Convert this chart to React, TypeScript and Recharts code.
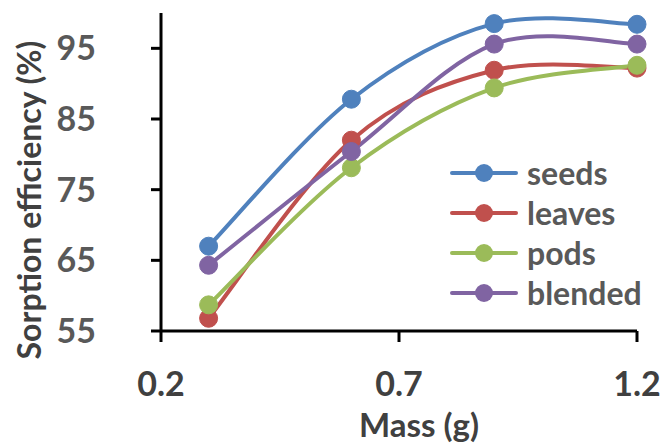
import { Label, Line, LineChart, XAxis, YAxis } from "recharts";

const mass = [0.3, 0.6, 0.9, 1.2];
const seeds = [67.0, 87.8, 98.5, 98.4];
const leaves = [56.8, 82.0, 91.9, 92.2];
const pods = [58.7, 78.1, 89.4, 92.6];
const blended = [64.3, 80.4, 95.6, 95.6];

const xTicks = [0.2, 0.7, 1.2];
const yTicks = [55, 65, 75, 85, 95];

const series = [
  { key: "seeds", color: "#4F81BD" },
  { key: "leaves", color: "#C0504D" },
  { key: "pods", color: "#9BBB59" },
  { key: "blended", color: "#8064A2" },
];

const data = mass.map((m, i) => ({
  mass: m,
  seeds: seeds[i],
  leaves: leaves[i],
  pods: pods[i],
  blended: blended[i],
}));

const FONT = "Lato, 'Noto Sans', sans-serif";

// Excel-like smoothed line (Catmull-Rom through the points)
const excelCurve = (context: any) => {
  let pts: number[][] = [];
  return {
    areaStart() {},
    areaEnd() {},
    lineStart() {
      pts = [];
    },
    point(x: number, y: number) {
      pts.push([+x, +y]);
    },
    lineEnd() {
      if (!pts.length) return;
      context.moveTo(pts[0][0], pts[0][1]);
      for (let i = 0; i < pts.length - 1; i++) {
        const p0 = pts[i - 1] || pts[i];
        const p1 = pts[i];
        const p2 = pts[i + 1];
        const p3 = pts[i + 2] || p2;
        context.bezierCurveTo(
          p1[0] + (p2[0] - p0[0]) / 6,
          p1[1] + (p2[1] - p0[1]) / 6,
          p2[0] - (p3[0] - p1[0]) / 6,
          p2[1] - (p3[1] - p1[1]) / 6,
          p2[0],
          p2[1],
        );
      }
    },
  };
};

const LegendBox = () => (
  <div style={{ position: "absolute", left: 450, top: 153, fontFamily: FONT }}>
    {series.map((s) => (
      <div
        key={s.key}
        style={{ display: "flex", alignItems: "center", height: 40 }}
      >
        <svg width={70} height={20}>
          <line
            x1={2}
            y1={10}
            x2={66}
            y2={10}
            stroke={s.color}
            strokeWidth={4}
            strokeLinecap="round"
          />
          <circle cx={34} cy={10} r={9} fill={s.color} />
        </svg>
        <span
          style={{
            fontSize: 32,
            fontWeight: 700,
            color: "#595959",
            marginLeft: 7,
            lineHeight: "40px",
          }}
        >
          {s.key}
        </span>
      </div>
    ))}
  </div>
);

export default function App() {
  return (
    <div style={{ position: "absolute", left: 0, top: 0, width: 667, height: 445, background: "#fff" }}>
      <LineChart
        width={667}
        height={445}
        data={data}
        margin={{ top: 13, right: 30, left: 0, bottom: 0 }}
      >
        <XAxis
          type="number"
          dataKey="mass"
          domain={[0.2, 1.2]}
          ticks={xTicks}
          height={114}
          stroke="#000"
          strokeWidth={3}
          tickSize={11}
          tickMargin={30}
          tick={{ fill: "#404040", fontSize: 34, fontWeight: 700, fontFamily: FONT }}
        >
          <Label
            content={({ viewBox }: any) => (
              <text
                x={viewBox.x + viewBox.width / 2 + 20}
                y={437}
                textAnchor="middle"
                fill="#404040"
                fontSize={33}
                fontWeight={700}
                fontFamily={FONT}
              >
                Mass (g)
              </text>
            )}
          />
        </XAxis>
        <YAxis
          type="number"
          domain={[55, 100]}
          ticks={yTicks}
          width={161}
          stroke="#000"
          strokeWidth={3}
          tickSize={10}
          tickMargin={55}
          tick={{ fill: "#595959", fontSize: 34, fontWeight: 700, fontFamily: FONT }}
        >
          <Label
            content={({ viewBox }: any) => {
              const cx = 28;
              const cy = viewBox.y + viewBox.height / 2 + 28;
              return (
                <text
                  x={cx}
                  y={cy}
                  transform={`rotate(-90, ${cx}, ${cy})`}
                  textAnchor="middle"
                  dominantBaseline="central"
                  fill="#404040"
                  fontSize={32}
                  fontWeight={700}
                  fontFamily={FONT}
                >
                  Sorption efficiency (%)
                </text>
              );
            }}
          />
        </YAxis>
        {series.map((s) => (
          <Line
            key={s.key}
            dataKey={s.key}
            type={excelCurve as any}
            stroke={s.color}
            strokeWidth={4}
            dot={{ r: 9, fill: s.color, stroke: s.color, strokeWidth: 1 }}
            isAnimationActive={false}
          />
        ))}
      </LineChart>
      <LegendBox />
    </div>
  );
}
